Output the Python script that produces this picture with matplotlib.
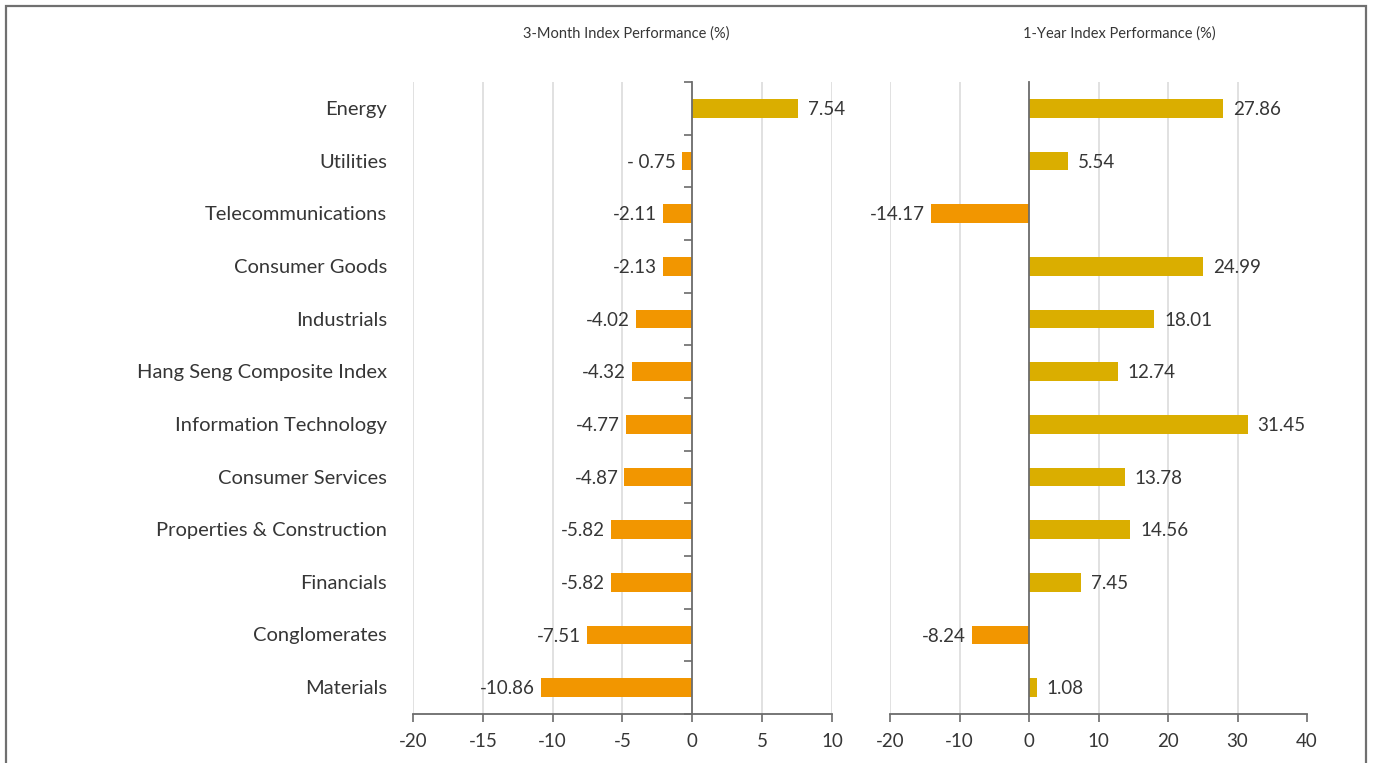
import matplotlib
matplotlib.use("Agg")
import matplotlib.pyplot as plt
from matplotlib.patches import Rectangle
import matplotlib.transforms as mtransforms

plt.rcParams['font.family'] = ['Lato', 'DejaVu Sans']

categories = ["Energy", "Utilities", "Telecommunications", "Consumer Goods", "Industrials",
              "Hang Seng Composite Index", "Information Technology", "Consumer Services",
              "Properties & Construction", "Financials", "Conglomerates", "Materials"]
three_month = [7.54, -0.75, -2.11, -2.13, -4.02, -4.32, -4.77, -4.87, -5.82, -5.82, -7.51, -10.86]
three_month_labels = ["7.54", "- 0.75", "-2.11", "-2.13", "-4.02", "-4.32", "-4.77", "-4.87",
                      "-5.82", "-5.82", "-7.51", "-10.86"]
one_year = [27.86, 5.54, -14.17, 24.99, 18.01, 12.74, 31.45, 13.78, 14.56, 7.45, -8.24, 1.08]
one_year_labels = ["27.86", "5.54", "-14.17", "24.99", "18.01", "12.74", "31.45", "13.78",
                   "14.56", "7.45", "-8.24", "1.08"]
titles = ["3-Month Index Performance (%)", "1-Year Index Performance (%)"]
xticks_left = [-20, -15, -10, -5, 0, 5, 10]
xticks_right = [-20, -10, 0, 10, 20, 30, 40]

POS = "#DAAE00"
NEG = "#F29600"
TXT = "#363636"
AX = "#6b6b6b"
GRID = "#dcdcdc"

W, H = 1373, 763
fig = plt.figure(figsize=(W / 100, H / 100), dpi=100)

def px(x0, y0, x1, y1):
    return [x0 / W, 1 - y1 / H, (x1 - x0) / W, (y1 - y0) / H]

axL = fig.add_axes(px(413, 82, 832, 714))
axR = fig.add_axes(px(890, 82, 1307, 714))

n = len(categories)
ypos = list(range(n))

def draw(ax, vals, labels, xticks, grid_vals, yticks_on, xlim):
    ax.set_xlim(*xlim)
    ax.set_ylim(n - 0.5, -0.5)
    for g in grid_vals:
        ax.axvline(g, color=GRID, lw=1.2, zorder=0)
    colors = [POS if v >= 0 else NEG for v in vals]
    ax.barh(ypos, vals, height=0.355, color=colors, zorder=2)
    for s in ["top", "right"]:
        ax.spines[s].set_visible(False)
    ax.spines["left"].set_position(("data", 0))
    ax.spines["left"].set_color(AX)
    ax.spines["left"].set_linewidth(1.3)
    ax.spines["left"].set_zorder(3)
    ax.spines["bottom"].set_color(AX)
    ax.spines["bottom"].set_linewidth(1.3)
    ax.set_xticks(xticks)
    ax.set_xticklabels([str(t) for t in xticks])
    ax.tick_params(axis="x", length=6, width=1.2, color=AX, labelsize=13.5, labelcolor=TXT, pad=8)
    if yticks_on:
        ax.set_yticks([i - 0.5 for i in range(n + 1)])
        ax.tick_params(axis="y", length=6, width=1.2, color=AX, labelleft=False)
    else:
        ax.set_yticks([])
    offp = mtransforms.ScaledTranslation(10 / 100, -1 / 100, fig.dpi_scale_trans)
    offn = mtransforms.ScaledTranslation(-6 / 100, -1 / 100, fig.dpi_scale_trans)
    for y, v, lab in zip(ypos, vals, labels):
        if v >= 0:
            ax.text(v, y, lab, ha="left", va="center", fontsize=13.5, color=TXT,
                    transform=ax.transData + offp)
        else:
            ax.text(v, y, lab, ha="right", va="center", fontsize=13.5, color=TXT,
                    transform=ax.transData + offn)

draw(axL, three_month, three_month_labels, xticks_left, [-20, -15, -10, -5, 5, 10], True, (-20, 10))
draw(axR, one_year, one_year_labels, xticks_right, [-20, -10, 10, 20, 30], False, (-20, 40))

trans = mtransforms.blended_transform_factory(axL.transAxes, axL.transData)
shift = mtransforms.ScaledTranslation(-26 / 100, -1 / 100, fig.dpi_scale_trans)
for y, c in zip(ypos, categories):
    axL.text(0, y, c, ha="right", va="center", fontsize=14.5, color=TXT,
             transform=trans + shift)

fig.text(626 / W, 1 - 34 / H, titles[0], ha="center", va="center", fontsize=10.5, color=TXT)
fig.text(1119 / W, 1 - 34 / H, titles[1], ha="center", va="center", fontsize=10.5, color=TXT)

fig.patches.append(Rectangle((6 / W, -0.05), (1366 - 6) / W, 1 - 6 / H + 0.05,
                             transform=fig.transFigure, fill=False, edgecolor="#707070",
                             linewidth=1.6, clip_on=False))

fig.savefig("out.png", dpi=100)
